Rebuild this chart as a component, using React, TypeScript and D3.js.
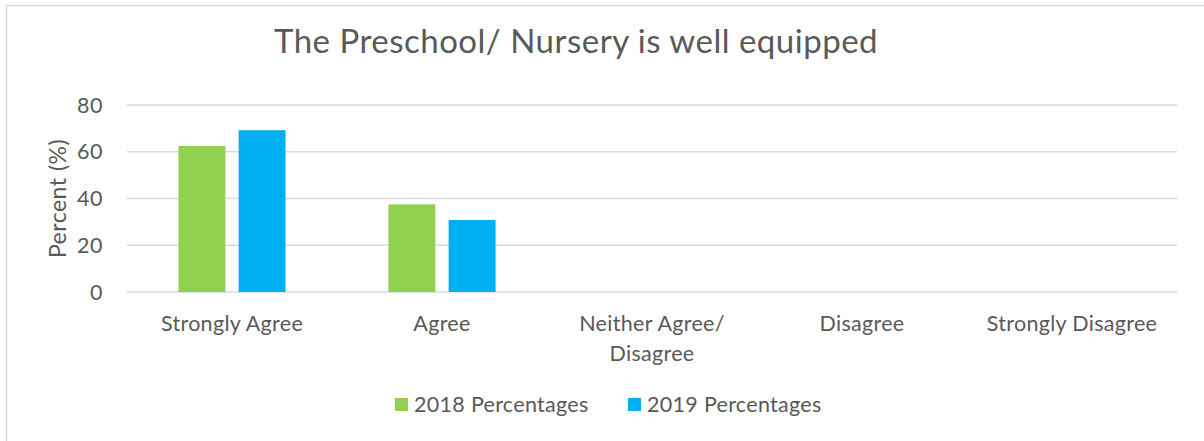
import React from "react";
import * as d3 from "d3";

const categories = ["Strongly Agree", "Agree", "Neither Agree/\nDisagree", "Disagree", "Strongly Disagree"];
const seriesNames = ["2018 Percentages", "2019 Percentages"];
const values2018 = [62.5, 37.5, 0, 0, 0];
const values2019 = [69.2, 30.8, 0, 0, 0];
const yTicks = [0, 20, 40, 60, 80];
const colors = ["#92d050", "#00b0f0"];

const W = 1204;
const H = 441;
const FONT = "Lato, 'Open Sans', sans-serif";
const TXT = "#595959";

export default function App() {
  const left = 127, right = 1177, top = 105, bottom = 292;
  const x0 = d3.scaleBand<string>().domain(categories).range([left, right]).paddingInner(0.49).paddingOuter(0.245);
  const x1 = d3.scaleBand<string>().domain(seriesNames).range([0, x0.bandwidth()]).paddingInner(0.22);
  const y = d3.scaleLinear().domain([0, 80]).range([bottom, top]);
  const series = [values2018, values2019];

  return (
    <svg width={W} height={H} style={{ position: "absolute", left: 0, top: 0, display: "block" }} fontFamily={FONT}>
      <rect x={0} y={0} width={W} height={H} fill="#ffffff" />
      <rect x={6.5} y={5.5} width={1210} height={460} fill="none" stroke="#d9d9d9" strokeWidth={1.5} />
      <text x={576} y={53} textAnchor="middle" fontSize={33} letterSpacing={0.5} fill={TXT}>
        The Preschool/ Nursery is well equipped
      </text>
      {yTicks.map((t) => (
        <g key={t}>
          <line x1={left} x2={right} y1={y(t)} y2={y(t)} stroke="#d9d9d9" strokeWidth={1.5} />
          <text x={103} y={y(t)} dy="0.35em" textAnchor="end" fontSize={21.5} letterSpacing={0.5} fill={TXT}>
            {t}
          </text>
        </g>
      ))}
      <text transform={`translate(66, ${(top + bottom) / 2}) rotate(-90)`} textAnchor="middle" fontSize={23} letterSpacing={0.5} fill={TXT}>
        Percent (%)
      </text>
      {series.map((vals, si) =>
        categories.map((c, ci) =>
          vals[ci] > 0 ? (
            <rect
              key={`${si}-${ci}`}
              x={(x0(c) ?? 0) + (x1(seriesNames[si]) ?? 0)}
              y={y(vals[ci])}
              width={x1.bandwidth()}
              height={y(0) - y(vals[ci])}
              fill={colors[si]}
            />
          ) : null
        )
      )}
      {categories.map((c) => {
        const cx = (x0(c) ?? 0) + x0.bandwidth() / 2;
        const lines = c.split("\n");
        return (
          <text key={c} x={cx} y={331} textAnchor="middle" fontSize={21.5} letterSpacing={0.3} fill={TXT}>
            {lines.map((l, i) => (
              <tspan key={i} x={cx} dy={i === 0 ? 0 : 30}>
                {l}
              </tspan>
            ))}
          </text>
        );
      })}
      {seriesNames.map((s, i) => {
        const lx = i === 0 ? 395 : 628;
        return (
          <g key={s}>
            <rect x={lx} y={398} width={13} height={13} fill={colors[i]} />
            <text x={lx + 19} y={412} fontSize={21.5} letterSpacing={0.3} fill={TXT}>
              {s}
            </text>
          </g>
        );
      })}
    </svg>
  );
}
